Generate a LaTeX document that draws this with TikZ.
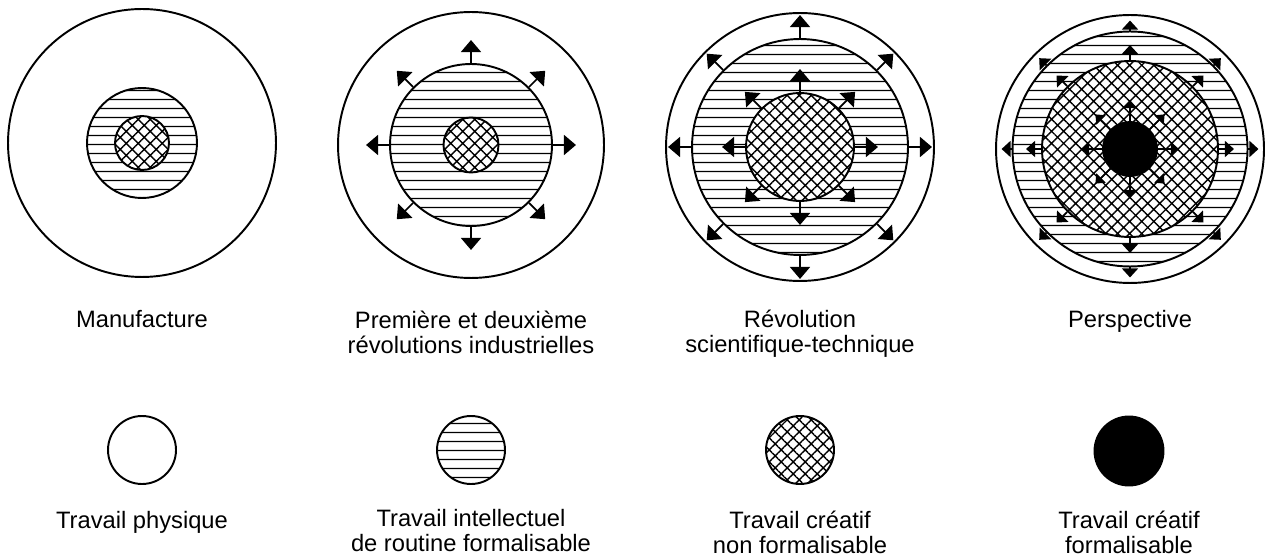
\documentclass[tikz,border=0pt]{standalone}
\usepackage{fontspec}
\setmainfont{Liberation Sans}
\usetikzlibrary{arrows.meta, patterns.meta}
\tikzset{
  >=Triangle,
  spreadarrow/.style={-{Triangle[length=0.24cm, width=0.4cm]}, line width=1pt, black},
  spreadarrow_small/.style={-{Triangle[length=0.18cm, width=0.32cm]}, line width=1pt, black},
  spreadarrow_tiny/.style={-{Triangle[length=0.16cm, width=0.26cm]}, line width=0.9pt, black}
}

\begin{document}
\begin{tikzpicture}[
    x=0.02cm, y=0.02cm,
    plainzone/.style={circle, draw, line width=1.1pt, fill=white, inner sep=0pt},
    lineszone/.style={circle, draw, line width=1.1pt, inner sep=0pt, preaction={fill=white}, pattern={Lines[distance=0.18cm, line width=0.85pt]}},
    hatchzone/.style={circle, draw, line width=1.1pt, inner sep=0pt, preaction={fill=white}, pattern={Hatch[angle=45, distance=0.17cm, line width=0.8pt]}},
    blackzone/.style={circle, draw, line width=1.1pt, fill=black, inner sep=0pt},
    stagetext/.style={font=\fontsize{13.5}{13.8}\selectfont, align=center, anchor=base, inner sep=0pt}
]
    \useasboundingbox (0,0) rectangle (1270,558);

    % Manufacture at x = 142
    \node[plainzone, minimum size=5.36cm] (manu_out) at (142,415) {};
    \node[lineszone, minimum size=2.2cm] (manu_mid) at (142,415) {};
    \node[hatchzone, minimum size=1.08cm] (manu_in) at (142,415) {};

    % First and second industrial revolutions at x = 471
    \node[plainzone, minimum size=5.32cm] (ind_out) at (471,413) {};
    \node[lineszone, minimum size=3.24cm] (ind_mid) at (471,413) {};
    \node[hatchzone, minimum size=1.1cm] (ind_in) at (471,413) {};
    \foreach \a in {0,45,...,315}
        \draw[spreadarrow] (ind_mid.\a) -- ++(\a:23);

    % Scientific-technical revolution at x = 800
    \node[plainzone, minimum size=5.36cm] (sci_out) at (800,411) {};
    \node[lineszone, minimum size=4.32cm] (sci_mid) at (800,411) {};
    \node[hatchzone, minimum size=2.16cm] (sci_in) at (800,411) {};
    \foreach \a in {0,45,...,315} {
        \draw[spreadarrow] (sci_mid.\a) -- ++(\a:23);
        \draw[spreadarrow] (sci_in.\a) -- ++(\a:23);
    }

    % Perspective at x = 1130
    \node[plainzone, minimum size=5.36cm] (persp_out) at (1130,409) {};
    \node[lineszone, minimum size=4.7cm] (persp_mid) at (1130,409) {};
    \node[hatchzone, minimum size=3.52cm] (persp_in) at (1130,409) {};
    \node[blackzone, minimum size=1.08cm] (persp_core) at (1130,409) {};
    \foreach \a in {0,45,...,315} {
        \draw[spreadarrow_small] (persp_mid.\a) -- ++(\a:10);
        \draw[spreadarrow_small] (persp_in.\a) -- ++(\a:15);
        \draw[spreadarrow_tiny] (persp_core.\a) -- ++(\a:21);
    }

    % Stage names (base = last line)
    \node[stagetext] (manu_txt) at (142,231) {Manufacture};
    \node[stagetext] (ind_txt) at (471,205) {Première et deuxième\\révolutions industrielles};
    \node[stagetext] (sci_txt) at (800,206) {Révolution\\scientifique-technique};
    \node[stagetext] (persp_txt) at (1130,231) {Perspective};

    % Legend at y = 108
    \node[plainzone, minimum size=1.36cm] (physique) at (142,108) {};
    \node[lineszone, minimum size=1.36cm] (routine) at (471,108) {};
    \node[hatchzone, minimum size=1.36cm] (creatif) at (800,108) {};
    \node[blackzone, minimum size=1.38cm] (formel) at (1129,107) {};

    \node[stagetext] (physique_txt) at (142,30) {Travail physique};
    \node[stagetext] (routine_txt) at (471,7) {Travail intellectuel\\de routine formalisable};
    \node[stagetext] (creatif_txt) at (800,5) {Travail créatif\\non formalisable};
    \node[stagetext] (formel_txt) at (1129,5) {Travail créatif\\formalisable};
\end{tikzpicture}
\end{document}
